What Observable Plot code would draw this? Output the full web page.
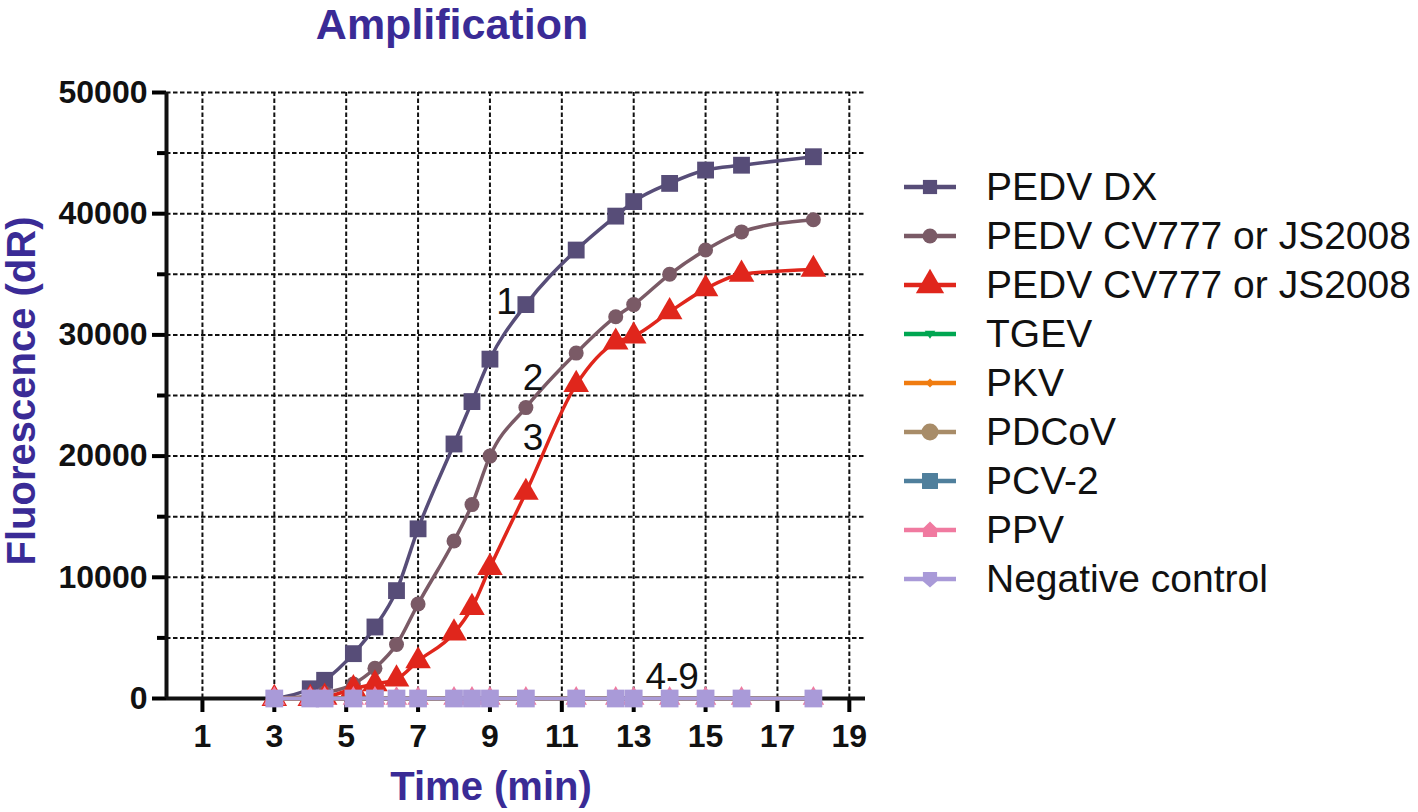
<!DOCTYPE html>
<html>
<head>
<meta charset="utf-8">
<script src="https://cdn.jsdelivr.net/npm/d3@7"></script>
<script src="https://cdn.jsdelivr.net/npm/@observablehq/plot@0.6"></script>
<style>
  html, body { margin: 0; padding: 0; background: #fff; }
  #wrap { position: relative; width: 1418px; height: 812px; overflow: hidden; font-family: "Liberation Sans", Arial, sans-serif; }
  #chart { position: absolute; left: 0; top: 0; }
  .ttl { position: absolute; font-weight: bold; color: #3a2b96; line-height: 1.2; white-space: nowrap; }
  #title { left: 452px; top: -1px; font-size: 43px; transform: translateX(-50%); }
  #xtitle { left: 491px; top: 762px; font-size: 40px; transform: translateX(-50%); }
  #ytitle { left: 21px; top: 391px; font-size: 40px; transform: translate(-50%, -50%) rotate(-90deg); }
  #legend { position: absolute; left: 900px; top: 162px; }
  .li { display: flex; align-items: center; height: 49px; font-size: 39px; color: #111; white-space: nowrap; }
  .li svg { flex: none; margin-right: 26px; }
</style>
</head>
<body>
<div id="wrap">
  <div id="chart"></div>
  <div id="title" class="ttl">Amplification</div>
  <div id="xtitle" class="ttl">Time (min)</div>
  <div id="ytitle" class="ttl">Fluorescence (dR)</div>
  <div id="legend"></div>
</div>
<script>
// ---- data ----
const times = [3, 4, 4.4, 5.2, 5.8, 6.4, 7.0, 8.0, 8.5, 9.0, 10.0, 11.4, 12.5, 13.0, 14.0, 15.0, 16.0, 18.0];
const seriesNames = ["PEDV DX", "PEDV CV777 or JS2008", "PEDV CV777 or JS2008", "TGEV", "PKV", "PDCoV", "PCV-2", "PPV", "Negative control"];
const seriesColors = ["#574d78", "#7a5a66", "#e0261c", "#00a651", "#f07c10", "#a88c68", "#4f7f9c", "#f07aa0", "#a99ad8"];
const pedvDX      = [0, 800, 1500, 3700, 5900, 8900, 14000, 21000, 24500, 28000, 32500, 37000, 39800, 41000, 42500, 43600, 44000, 44700];
const pedvCV777a  = [0, 200, 450, 1200, 2500, 4450, 7800, 13000, 16000, 20000, 24000, 28500, 31500, 32500, 35000, 37000, 38500, 39500];
const pedvCV777b  = [0, 0, 100, 800, 1200, 1600, 3100, 5400, 7500, 10800, 17000, 25900, 29400, 29900, 31900, 33800, 35000, 35400];
const tgev        = [0, 0, 0, 0, 0, 0, 0, 0, 0, 0, 0, 0, 0, 0, 0, 0, 0, 0];
const pkv         = [0, 0, 0, 0, 0, 0, 0, 0, 0, 0, 0, 0, 0, 0, 0, 0, 0, 0];
const pdcov       = [0, 0, 0, 0, 0, 0, 0, 0, 0, 0, 0, 0, 0, 0, 0, 0, 0, 0];
const pcv2        = [0, 0, 0, 0, 0, 0, 0, 0, 0, 0, 0, 0, 0, 0, 0, 0, 0, 0];
const ppv         = [0, 0, 0, 0, 0, 0, 0, 0, 0, 0, 0, 0, 0, 0, 0, 0, 0, 0];
const negControl  = [0, 0, 0, 0, 0, 0, 0, 0, 0, 0, 0, 0, 0, 0, 0, 0, 0, 0];
const seriesValues = [pedvDX, pedvCV777a, pedvCV777b, tgev, pkv, pdcov, pcv2, ppv, negControl];

const xTicks = [1, 3, 5, 7, 9, 11, 13, 15, 17, 19];
const yTicks = [0, 10000, 20000, 30000, 40000, 50000];
const yMinorTicks = [5000, 15000, 25000, 35000, 45000];
const annoLabels = ["1", "2", "3", "4-9"];
const annoX = [9.46, 10.2, 10.2, 14.07];
const annoY = [32700, 26400, 21450, 1730];

// ---- symbols ----
const downTri = { draw(ctx, size) { const s = Math.sqrt(size) * 0.75;
  ctx.moveTo(-s, -s * 0.6); ctx.lineTo(s, -s * 0.6); ctx.lineTo(0, s * 0.9); ctx.closePath(); } };
const shield = { draw(ctx, size) { const s = Math.sqrt(size) * 0.5;
  ctx.moveTo(-s, -s); ctx.lineTo(s, -s); ctx.lineTo(s, s * 0.3); ctx.lineTo(0, s * 1.2); ctx.lineTo(-s, s * 0.3); ctx.closePath(); } };
const bump = { draw(ctx, size) { const s = Math.sqrt(size) * 0.5;
  ctx.moveTo(-s, s); ctx.lineTo(-s, -s * 0.2); ctx.lineTo(0, -s * 1.2); ctx.lineTo(s, -s * 0.2); ctx.lineTo(s, s); ctx.closePath(); } };
const seriesSymbols = ["square", "circle", "triangle", downTri, "diamond", "circle", "square", "triangle", "square"];
const seriesR = [9.5, 7.5, 9.5, 4, 4, 7, 9, 8, 10];
const legendSymbols = ["square", "circle", "triangle", downTri, "diamond2", "circle", "square", bump, shield];
const legendR = [8, 7.5, 10.5, 4, 4, 8.5, 9, 8, 8];

const rows = seriesNames.map((name, i) => times.map((t, j) => ({ s: i, t, v: seriesValues[i][j] })));

// ---- chart ----
const marks = [
  Plot.ruleY([...yMinorTicks, ...yTicks.filter(d => d > 0)], { stroke: "#111", strokeWidth: 2, strokeDasharray: "4.5,2.5" }),
  Plot.ruleX(xTicks, { y1: 0, y2: 50000, stroke: "#111", strokeWidth: 2, strokeDasharray: "4.5,2.5" }),
  Plot.axisY(yTicks, { tickSize: 14, tickPadding: 5, fontSize: 32, fontWeight: "bold", strokeWidth: 4, fill: "#111", tickFormat: d3.format("d") }),
  Plot.axisY(yMinorTicks, { tickSize: 9, strokeWidth: 4, tickFormat: () => "" }),
  Plot.axisX(xTicks, { tickSize: 14, tickPadding: 12, fontSize: 32, fontWeight: "bold", strokeWidth: 4, fill: "#111", tickFormat: d3.format("d") }),
  Plot.ruleX([0], { y1: 0, y2: 50000, stroke: "#111", strokeWidth: 4 }),
  Plot.ruleY([0], { stroke: "#111", strokeWidth: 4 })
];
rows.forEach((r, i) => {
  marks.push(Plot.line(r, { x: "t", y: "v", stroke: seriesColors[i], strokeWidth: 3.5, curve: "monotone-x" }));
  marks.push(Plot.dot(r, { x: "t", y: "v", fill: seriesColors[i], stroke: "none", symbol: seriesSymbols[i], r: seriesR[i] }));
});
marks.push(Plot.text(annoLabels, { x: (d, i) => annoX[i], y: (d, i) => annoY[i], text: d => d, fontSize: 37, fill: "#111" }));

const chart = Plot.plot({
  width: 1418, height: 812,
  marginLeft: 166, marginRight: 553, marginTop: 92, marginBottom: 114,
  x: { domain: [0, 19.45], label: null },
  y: { domain: [0, 50000], label: null },
  style: { fontFamily: "Liberation Sans, Arial, sans-serif", background: "transparent", overflow: "visible" },
  marks
});
document.getElementById("chart").appendChild(chart);

// ---- legend ----
const legend = d3.select("#legend");
seriesNames.forEach((name, i) => {
  const item = legend.append("div").attr("class", "li");
  const svg = item.append("svg").attr("width", 60).attr("height", 40);
  svg.append("line").attr("x1", 4).attr("x2", 56).attr("y1", 20).attr("y2", 20)
    .attr("stroke", seriesColors[i]).attr("stroke-width", 4.5);
  const sym = typeof legendSymbols[i] === "string"
    ? { square: d3.symbolSquare, circle: d3.symbolCircle, triangle: d3.symbolTriangle, diamond2: d3.symbolDiamond2 }[legendSymbols[i]]
    : legendSymbols[i];
  svg.append("path").attr("transform", "translate(30,20)")
    .attr("d", d3.symbol(sym, Math.PI * legendR[i] * legendR[i])())
    .attr("fill", seriesColors[i]);
  item.append("span").text(name);
});
</script>
</body>
</html>
